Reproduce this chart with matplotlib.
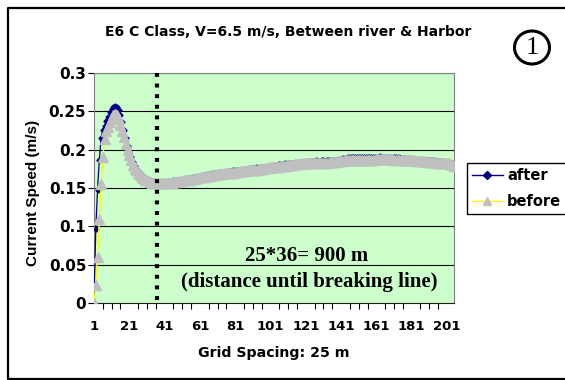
import matplotlib
matplotlib.use('Agg')
import matplotlib.pyplot as plt
from matplotlib.patches import Ellipse
from matplotlib.lines import Line2D

# grid point index (1..205), spacing 25 m
before = [
    0.000, 0.023, 0.060, 0.109, 0.155, 0.190, 0.214, 0.224, 0.230, 0.236,
    0.241, 0.245, 0.247, 0.245, 0.240, 0.232, 0.224, 0.216, 0.207, 0.199,
    0.193, 0.186, 0.180, 0.176, 0.173, 0.170, 0.167, 0.165, 0.163, 0.161,
    0.160, 0.159, 0.158, 0.157, 0.157, 0.156, 0.156, 0.156, 0.156, 0.156,
    0.156, 0.156, 0.157, 0.157, 0.157, 0.158, 0.158, 0.158, 0.159, 0.159,
    0.159, 0.160, 0.160, 0.160, 0.161, 0.161, 0.162, 0.162, 0.163, 0.163,
    0.164, 0.164, 0.165, 0.165, 0.166, 0.166, 0.166, 0.167, 0.167, 0.167,
    0.168, 0.168, 0.168, 0.168, 0.169, 0.169, 0.169, 0.170, 0.170, 0.170,
    0.171, 0.171, 0.171, 0.172, 0.172, 0.172, 0.172, 0.173, 0.173, 0.173,
    0.173, 0.174, 0.174, 0.174, 0.175, 0.175, 0.175, 0.176, 0.176, 0.176,
    0.177, 0.177, 0.177, 0.178, 0.178, 0.178, 0.179, 0.179, 0.179, 0.179,
    0.180, 0.180, 0.180, 0.180, 0.181, 0.181, 0.181, 0.181, 0.182, 0.182,
    0.182, 0.182, 0.182, 0.182, 0.183, 0.183, 0.183, 0.183, 0.183, 0.183,
    0.183, 0.183, 0.183, 0.183, 0.184, 0.184, 0.184, 0.184, 0.185, 0.185,
    0.185, 0.185, 0.186, 0.186, 0.186, 0.186, 0.186, 0.187, 0.187, 0.187,
    0.187, 0.187, 0.187, 0.187, 0.187, 0.187, 0.187, 0.187, 0.187, 0.187,
    0.188, 0.188, 0.188, 0.188, 0.188, 0.188, 0.188, 0.188, 0.188, 0.188,
    0.187, 0.187, 0.187, 0.187, 0.187, 0.187, 0.186, 0.186, 0.186, 0.186,
    0.186, 0.186, 0.185, 0.185, 0.185, 0.185, 0.185, 0.185, 0.184, 0.184,
    0.184, 0.184, 0.184, 0.184, 0.183, 0.183, 0.183, 0.183, 0.183, 0.182,
    0.182, 0.182, 0.181, 0.180, 0.179,
]
after = [
    0.000, 0.096, 0.148, 0.186, 0.215, 0.226, 0.231, 0.237, 0.243, 0.249,
    0.253, 0.256, 0.257, 0.256, 0.252, 0.245, 0.236, 0.226, 0.215, 0.205,
    0.197, 0.190, 0.184, 0.179, 0.175, 0.172, 0.169, 0.167, 0.165, 0.163,
    0.162, 0.161, 0.160, 0.159, 0.159, 0.158, 0.158, 0.158, 0.157, 0.158,
    0.158, 0.158, 0.159, 0.158, 0.159, 0.160, 0.160, 0.160, 0.161, 0.161,
    0.161, 0.162, 0.162, 0.163, 0.163, 0.163, 0.164, 0.164, 0.165, 0.165,
    0.166, 0.166, 0.167, 0.167, 0.168, 0.168, 0.168, 0.169, 0.169, 0.170,
    0.170, 0.170, 0.171, 0.170, 0.171, 0.171, 0.172, 0.172, 0.172, 0.173,
    0.173, 0.173, 0.174, 0.174, 0.174, 0.175, 0.174, 0.175, 0.175, 0.176,
    0.176, 0.176, 0.177, 0.176, 0.177, 0.177, 0.178, 0.178, 0.178, 0.179,
    0.179, 0.179, 0.180, 0.180, 0.180, 0.181, 0.181, 0.181, 0.182, 0.181,
    0.182, 0.182, 0.182, 0.183, 0.183, 0.183, 0.184, 0.183, 0.184, 0.184,
    0.184, 0.185, 0.184, 0.185, 0.185, 0.185, 0.186, 0.185, 0.185, 0.186,
    0.186, 0.185, 0.186, 0.186, 0.186, 0.187, 0.187, 0.187, 0.188, 0.188,
    0.188, 0.189, 0.189, 0.189, 0.190, 0.190, 0.190, 0.191, 0.191, 0.190,
    0.191, 0.191, 0.191, 0.190, 0.191, 0.191, 0.191, 0.191, 0.190, 0.191,
    0.191, 0.191, 0.192, 0.191, 0.191, 0.191, 0.191, 0.190, 0.191, 0.190,
    0.190, 0.190, 0.189, 0.190, 0.189, 0.189, 0.189, 0.188, 0.189, 0.188,
    0.188, 0.188, 0.188, 0.187, 0.187, 0.188, 0.187, 0.187, 0.187, 0.186,
    0.186, 0.186, 0.186, 0.186, 0.185, 0.185, 0.185, 0.185, 0.184, 0.184,
    0.184, 0.184, 0.183, 0.182, 0.180,
]
grid_points = list(range(1, len(before) + 1))
tick_labels = [1, 21, 41, 61, 81, 101, 121, 141, 161, 181, 201]
y_ticks = [0, 0.05, 0.1, 0.15, 0.2, 0.25, 0.3]
breaking_point = 36.5

W, H = 565, 380
fig = plt.figure(figsize=(W / 100, H / 100), dpi=100)
ax = fig.add_axes([94 / W, 1 - 303 / H, 360 / W, 230 / H])
ax.set_facecolor('#CCFFCC')

for y in y_ticks[1:]:
    ax.axhline(y, color='black', lw=0.8, zorder=1)

ax.plot(grid_points, after, color='#000080', lw=0.9, marker='D', ms=2.6,
        mfc='#000080', mec='#000080', zorder=3)
ax.plot(grid_points, before, color='#FFFF00', lw=1.0, marker='^', ms=7,
        mfc='#C0C0C0', mec='#C0C0C0', zorder=4)

ax.plot([breaking_point, breaking_point], [0.004, 0.3], color='black', lw=3.0,
        dashes=(0.95, 1.6), dash_capstyle='butt', zorder=5, clip_on=False)

ax.set_xlim(1, len(before))
ax.set_ylim(0, 0.3)
ax.set_xticks(range(1, len(before) + 1, 5), minor=True)
ax.set_xticks(tick_labels)
ax.set_xticklabels([str(t) for t in tick_labels], fontweight='bold', fontsize=9.5)
ax.tick_params(axis='x', which='major', length=0, pad=12)
ax.tick_params(axis='x', which='minor', length=4, width=0.8, direction='out')
ax.set_yticks(y_ticks)
ax.set_yticklabels(['0', '0.05', '0.1', '0.15', '0.2', '0.25', '0.3'],
                   fontweight='bold', fontsize=11)
ax.tick_params(axis='y', length=4, width=0.8, direction='out', pad=1.5)

for side in ['top', 'right', 'left']:
    ax.spines[side].set_color('#808080')
ax.spines['bottom'].set_color('#202020')

fig.text(33.5 / W, 1 - 192.5 / H, 'Current Speed (m/s)', rotation=90,
         ha='center', va='center', fontweight='bold', fontsize=11,
         family='Liberation Sans')
fig.text(274 / W, 1 - 353 / H, 'Grid Spacing: 25 m', ha='center', va='center',
         fontweight='bold', fontsize=10.2)
fig.text(288 / W, 1 - 32.5 / H, 'E6 C Class, V=6.5 m/s, Between river & Harbor',
         ha='center', va='center', fontweight='bold', fontsize=10)

fig.text(307 / W, 1 - 256 / H, '25*36= 900 m', ha='center', va='center',
         family='Liberation Serif', fontweight='bold', fontsize=15)
fig.text(309 / W, 1 - 282 / H, '(distance until breaking line)', ha='center',
         va='center', family='Liberation Serif', fontweight='bold', fontsize=15)

handles = [
    Line2D([], [], color='#000080', lw=1.0, marker='D', ms=4, mfc='#000080', mec='#000080'),
    Line2D([], [], color='#FFFF00', lw=1.0, marker='^', ms=6, mfc='#C0C0C0', mec='#C0C0C0'),
]
fig.legend(handles, ['after', 'before'], loc='upper left',
           bbox_to_anchor=(467 / W, 1 - 163 / H),
           prop={'weight': 'bold', 'size': 10.5}, frameon=True, fancybox=False,
           edgecolor='black', framealpha=1, borderpad=0.35, handlelength=2.1,
           handletextpad=0.3, labelspacing=0.75, borderaxespad=0)

# outer chart border (right side runs off the picture)
fig.add_artist(Line2D([W + 50, 8, 8, W + 50], [H - 8, H - 8, 1, 1],
                      transform=None, color='black', lw=1.6))
fig.add_artist(Ellipse((532 / W, 1 - 47.5 / H), 35 / W, 33 / H,
                       transform=fig.transFigure, fill=False,
                       edgecolor='black', lw=2.2))
fig.text(532 / W, 1 - 48 / H, '1', ha='center', va='center',
         family='Liberation Serif', fontsize=19)

fig.savefig('out.png', dpi=100)
plt.close(fig)
